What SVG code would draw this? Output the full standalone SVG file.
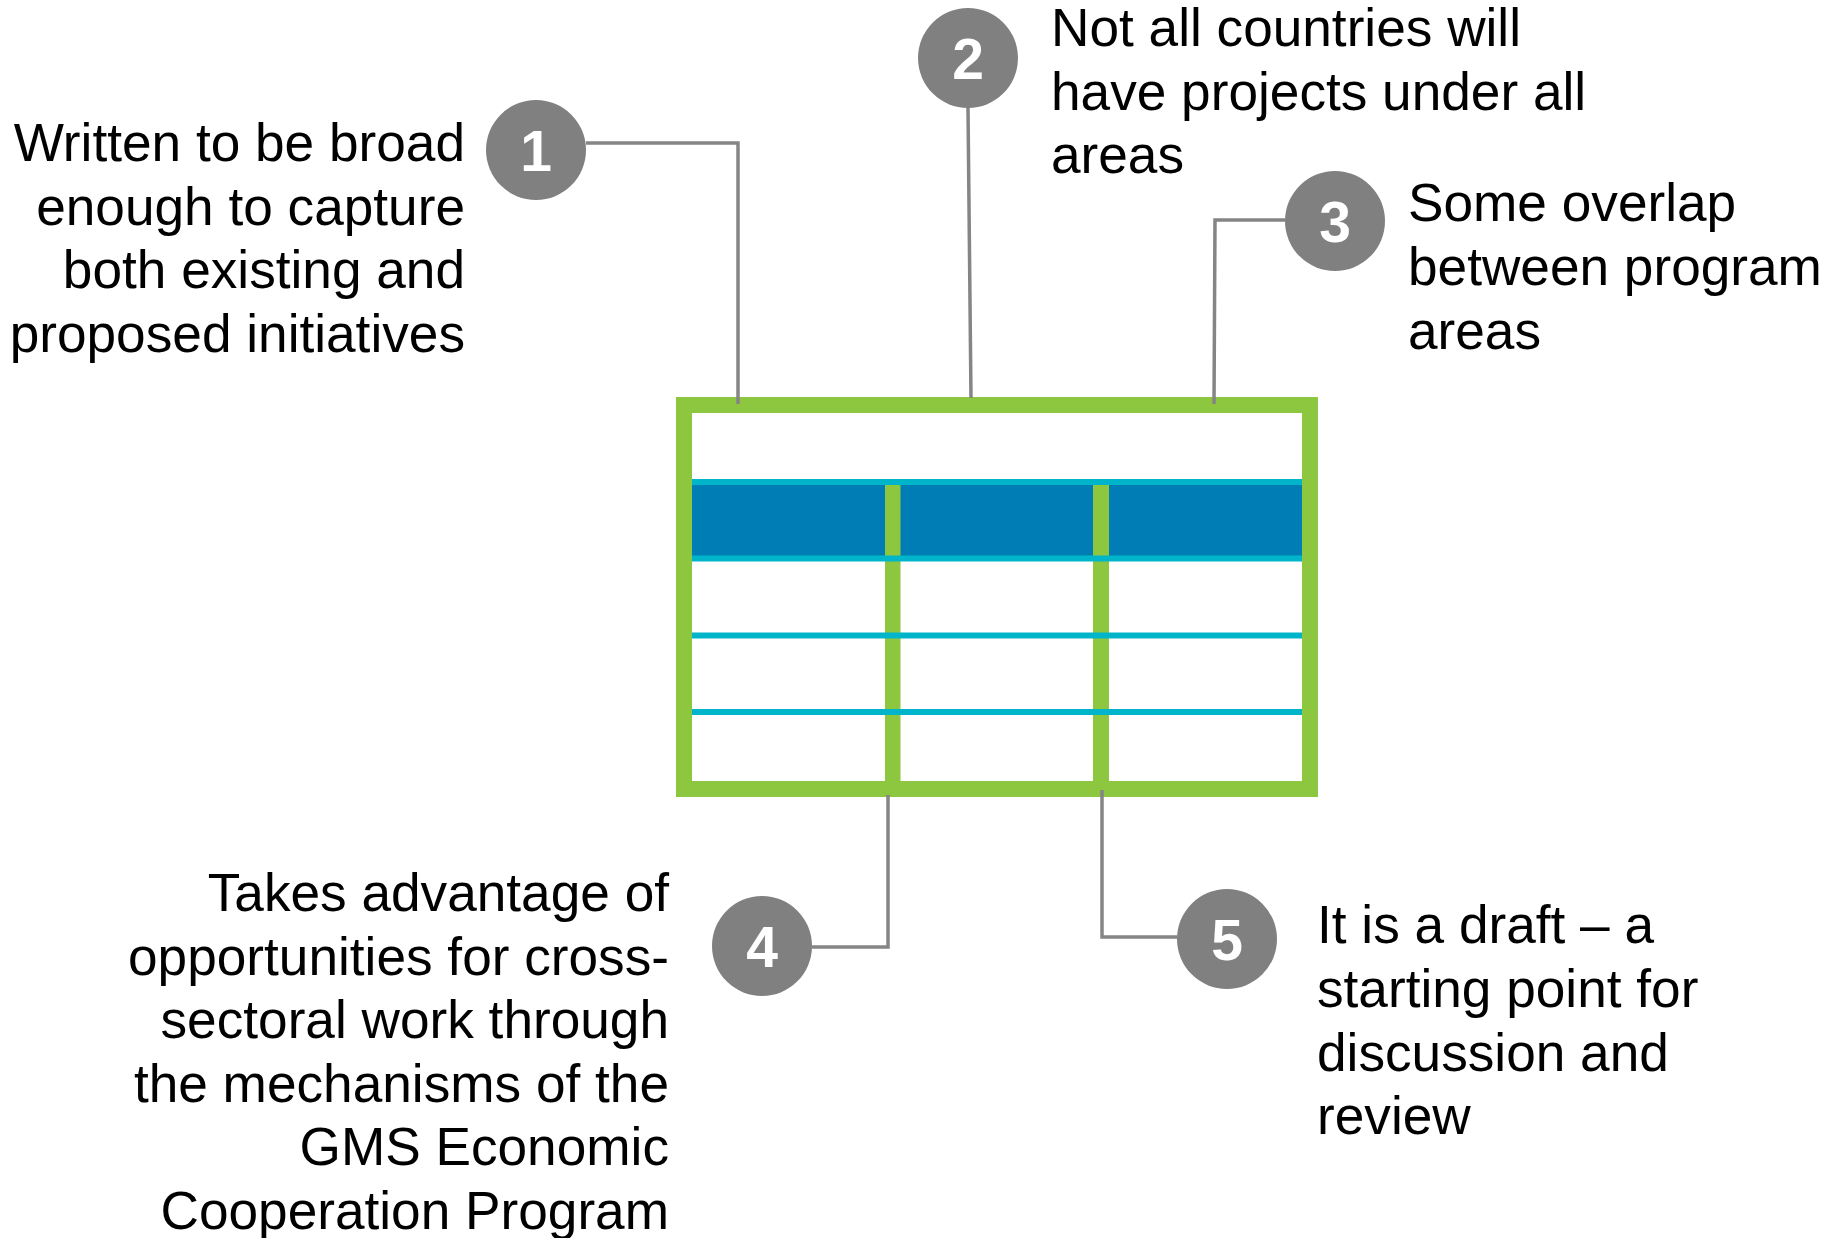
<svg xmlns="http://www.w3.org/2000/svg" width="1839" height="1238" viewBox="0 0 1839 1238">
<defs>
<style>
.lbl{font-family:"Liberation Sans",Arial,sans-serif;font-size:53.2px;fill:#000}
.num{font-family:"Liberation Sans",Arial,sans-serif;font-size:57px;font-weight:bold;fill:#fff;text-anchor:middle}
.badge{fill:#808080}
.conn{fill:none;stroke:#858585;stroke-width:3.5}
.cyan{stroke:#00B5C9;stroke-width:6}
.green{fill:#8DC63F}
</style>
</defs>
<rect width="1839" height="1238" fill="#fff"/>
<g id="table">
<rect x="684" y="405" width="626" height="384" fill="#fff"/>
<rect x="692" y="482" width="610" height="76" fill="#007DB5"/>
<rect class="green" x="885" y="485" width="15.5" height="300"/>
<rect class="green" x="1093" y="485" width="16" height="300"/>
<line class="cyan" x1="692" y1="482" x2="1302" y2="482"/>
<line class="cyan" x1="692" y1="558.5" x2="1302" y2="558.5"/>
<line class="cyan" x1="692" y1="635.5" x2="1302" y2="635.5"/>
<line class="cyan" x1="692" y1="712" x2="1302" y2="712"/>
<rect x="684" y="405" width="626" height="384" fill="none" stroke="#8DC63F" stroke-width="16"/>
</g>
<g id="connectors">
<polyline class="conn" points="586,143 738,143 738,404"/>
<polyline class="conn" points="968,108 971,398"/>
<polyline class="conn" points="1285,220 1215,220 1214,404"/>
<polyline class="conn" points="888,795 888,947 812,947"/>
<polyline class="conn" points="1102,790 1102,937 1177,937"/>
</g>
<g id="node1">
<circle class="badge" cx="536" cy="150" r="50"/>
<text class="num" x="536" y="171">1</text>
<text class="lbl" text-anchor="end"><tspan x="465" y="161">Written to be broad</tspan><tspan x="465" y="225">enough to capture</tspan><tspan x="465" y="288">both existing and</tspan><tspan x="465" y="352">proposed initiatives</tspan></text>
</g>
<g id="node2">
<circle class="badge" cx="968" cy="58" r="50"/>
<text class="num" x="968" y="79">2</text>
<text class="lbl"><tspan x="1051" y="46">Not all countries will</tspan><tspan x="1051" y="110">have projects under all</tspan><tspan x="1051" y="173">areas</tspan></text>
</g>
<g id="node3">
<circle class="badge" cx="1335" cy="221" r="50"/>
<text class="num" x="1335" y="242">3</text>
<text class="lbl"><tspan x="1408" y="221">Some overlap</tspan><tspan x="1408" y="285">between program</tspan><tspan x="1408" y="349">areas</tspan></text>
</g>
<g id="node4">
<circle class="badge" cx="762" cy="946" r="50"/>
<text class="num" x="762" y="967">4</text>
<text class="lbl" text-anchor="end"><tspan x="669" y="911">Takes advantage of</tspan><tspan x="669" y="975">opportunities for cross-</tspan><tspan x="669" y="1038">sectoral work through</tspan><tspan x="669" y="1102">the mechanisms of the</tspan><tspan x="669" y="1165">GMS Economic</tspan><tspan x="669" y="1229">Cooperation Program</tspan></text>
</g>
<g id="node5">
<circle class="badge" cx="1227" cy="939" r="50"/>
<text class="num" x="1227" y="960">5</text>
<text class="lbl"><tspan x="1317" y="943">It is a draft – a</tspan><tspan x="1317" y="1007">starting point for</tspan><tspan x="1317" y="1071">discussion and</tspan><tspan x="1317" y="1134">review</tspan></text>
</g>
</svg>
